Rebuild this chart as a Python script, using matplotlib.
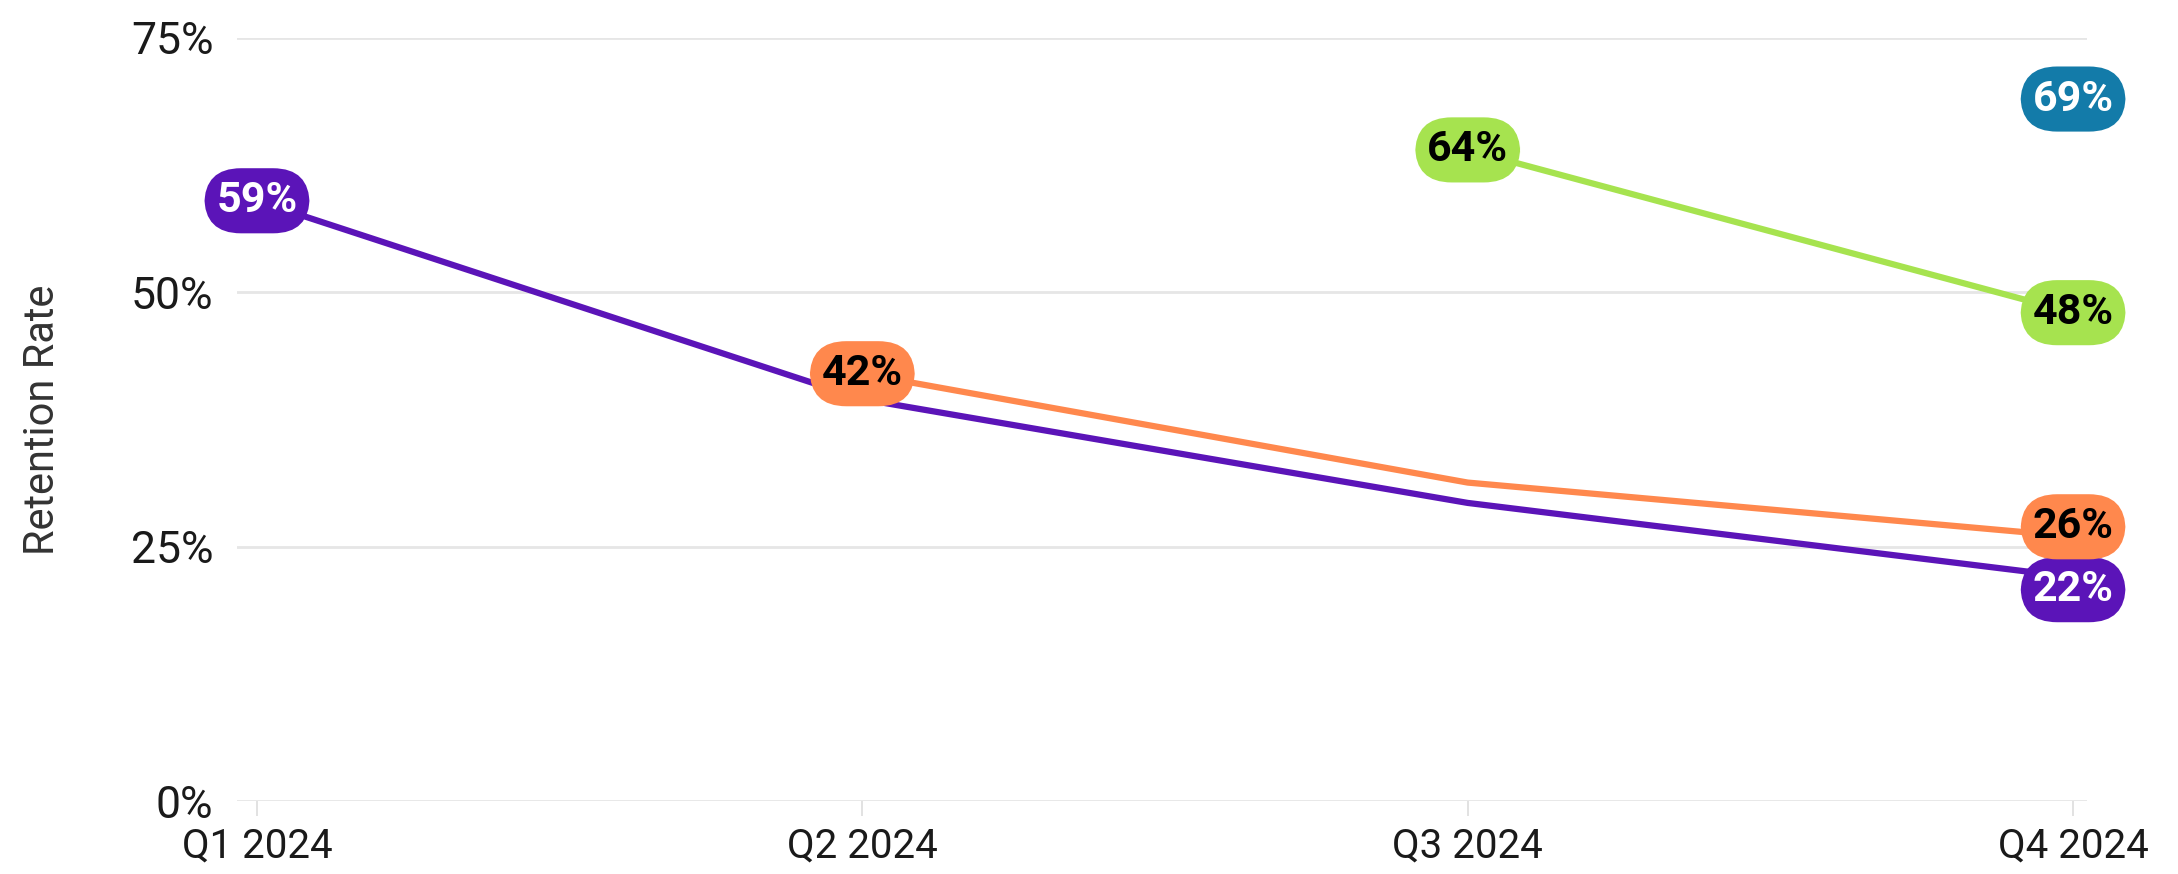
import matplotlib
matplotlib.use("Agg")
import matplotlib.pyplot as plt
import numpy as np

plt.rcParams['font.family'] = ['Roboto', 'DejaVu Sans']

# quarters on the x axis
quarters = ['Q1 2024', 'Q2 2024', 'Q3 2024', 'Q4 2024']

# one cohort per line: start quarter index and retention values (%)
cohort_q1 = [59, 39.5, 29.3, 22]
cohort_q2 = [42, 31.3, 26]
cohort_q3 = [64, 48]
cohort_q4 = [69]
starts = [0, 1, 2, 3]

colors = ['#5B14B8', '#FF884D', '#A6E34F', '#137BA9']
text_colors = ['white', 'black', 'black', 'white']

yticks = [0, 25, 50, 75]

fig = plt.figure(figsize=(21.78, 8.74), dpi=100)
ax = fig.add_axes([237 / 2178, 1 - 801 / 874, 1850 / 2178, (801 - 38) / 874])

series = [cohort_q1, cohort_q2, cohort_q3, cohort_q4]
# label nudges (points) so that the last two end labels don't collide
end_nudge = [-9, 7, 0, 0]

for i, vals in enumerate(series):
    xs = np.arange(starts[i], starts[i] + len(vals))
    ax.plot(xs, vals, color=colors[i], lw=4.5, solid_capstyle='round', zorder=3 + i * 0.1)
    box = dict(boxstyle='round,pad=0.28,rounding_size=0.85', fc=colors[i], ec='none')
    # label at first point
    ax.annotate('{:.0f}%'.format(vals[0]), (xs[0], vals[0]), ha='center', va='center',
                fontsize=31, fontweight='bold', color=text_colors[i], bbox=box,
                zorder=10, annotation_clip=False)
    if len(vals) > 1:
        ax.annotate('{:.0f}%'.format(vals[-1]), (xs[-1], vals[-1]),
                    xytext=(0, end_nudge[i]), textcoords='offset points',
                    ha='center', va='center', fontsize=31, fontweight='bold',
                    color=text_colors[i], bbox=box, zorder=10, annotation_clip=False)

ax.set_xlim(-0.033, 3.023)
ax.set_ylim(0, 75)
ax.set_xticks(range(len(quarters)))
ax.set_xticklabels(quarters)
ax.set_yticks(yticks)
ax.set_yticklabels(['{}%'.format(v) for v in yticks])

ax.grid(axis='y', color='#e6e6e6', lw=2)
ax.set_axisbelow(True)
for s in ax.spines.values():
    s.set_visible(False)

ax.tick_params(axis='y', length=0, pad=17, labelsize=32, labelcolor='#1a1a1a')
ax.tick_params(axis='x', length=11, width=1.2, color='#dddddd', pad=7,
               labelsize=29, labelcolor='#1a1a1a')

ax.set_ylabel('Retention Rate', fontsize=30, color='#333333')
ax.yaxis.set_label_coords(-0.094, 0.5)

fig.savefig('out.png', dpi=100)
